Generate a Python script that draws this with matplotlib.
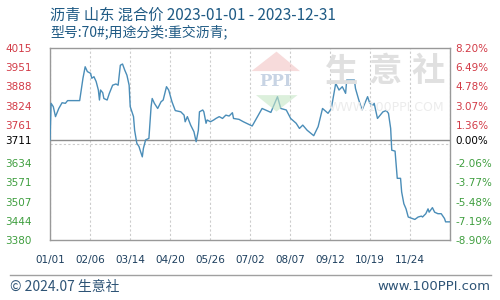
import matplotlib

matplotlib.use("Agg")
import matplotlib.pyplot as plt
import numpy as np
import pandas as pd
from matplotlib.lines import Line2D
from matplotlib.patches import Polygon

# price series (2023, yuan/ton)
dates = [
    "01-01", "01-02", "01-04", "01-06", "01-09", "01-12", "01-15", "01-17", "01-28", "01-29",
    "01-31", "02-02", "02-04", "02-07", "02-08", "02-10", "02-12", "02-14", "02-15", "02-16",
    "02-18", "02-19", "02-22", "02-24", "02-27", "03-02", "03-04", "03-06", "03-08", "03-10",
    "03-12", "03-14", "03-15", "03-18", "03-19", "03-21", "03-23", "03-24", "03-26", "03-27",
    "03-29", "04-01", "04-03", "04-04", "04-06", "04-09", "04-12", "04-14", "04-17", "04-19",
    "04-22", "04-25", "04-30", "05-03", "05-04", "05-06", "05-09", "05-12", "05-14", "05-16",
    "05-17", "05-20", "05-21", "05-23", "05-24", "05-27", "05-30", "06-01", "06-04", "06-07",
    "06-10", "06-13", "06-16", "06-17", "06-22", "06-26", "07-04", "07-13", "07-21", "07-27",
    "07-30", "08-04", "08-08", "08-13", "08-16", "08-19", "08-23", "08-29", "09-02", "09-06",
    "09-11", "09-14", "09-18", "09-21", "09-24", "09-27", "09-28", "10-05", "10-06", "10-09",
    "10-12", "10-17", "10-19", "10-22", "10-23", "10-26", "10-29", "10-31", "11-03", "11-05",
    "11-07", "11-08", "11-11", "11-13", "11-16", "11-17", "11-19", "11-21", "11-23", "11-26",
    "11-29", "12-02", "12-05", "12-06", "12-09", "12-11", "12-12", "12-15", "12-17", "12-20",
    "12-23", "12-26", "12-27", "12-31",
]
prices = [
    3711, 3832, 3821, 3788, 3815, 3834, 3832, 3841, 3841, 3865,
    3915, 3953, 3937, 3931, 3915, 3920, 3904, 3876, 3843, 3876,
    3867, 3848, 3843, 3865, 3892, 3896, 3892, 3958, 3962, 3942,
    3925, 3892, 3821, 3788, 3743, 3700, 3689, 3677, 3655, 3683,
    3711, 3716, 3821, 3848, 3832, 3815, 3837, 3843, 3887, 3876,
    3837, 3808, 3804, 3793, 3771, 3788, 3760, 3738, 3705, 3743,
    3804, 3810, 3804, 3766, 3777, 3771, 3777, 3782, 3788, 3782,
    3793, 3790, 3801, 3782, 3779, 3771, 3757, 3815, 3802, 3854,
    3815, 3810, 3782, 3766, 3749, 3760, 3743, 3725, 3755, 3815,
    3799, 3815, 3898, 3876, 3887, 3865, 3909, 3909, 3881, 3843,
    3810, 3854, 3832, 3826, 3832, 3782, 3795, 3804, 3808, 3799,
    3749, 3677, 3674, 3584, 3584, 3539, 3500, 3483, 3456, 3452,
    3448, 3456, 3459, 3456, 3467, 3483, 3472, 3487, 3472, 3467,
    3467, 3451, 3440, 3440,
]

base_price = 3711
x_labels = ["01/01", "02/06", "03/14", "04/20", "05/26", "07/02", "08/07", "09/12", "10/19", "11/24"]
left_labels = ["3380", "3444", "3507", "3571", "3634", "3711", "3761", "3824", "3888", "3951", "4015"]
right_labels = ["-8.90%", "-7.19%", "-5.48%", "-3.77%", "-2.06%", "0.00%",
                "1.36%", "3.07%", "4.78%", "6.49%", "8.20%"]

RED = "#d23a46"
GREEN = "#3f9e3f"
LINE = "#4a8db8"
TEXT = "#1f5a84"
CJK = ["Noto Sans CJK SC", "DejaVu Sans"]

days = (pd.to_datetime(["2023-" + d for d in dates]) - pd.Timestamp("2023-01-01")).days.to_numpy()

y_lo, y_hi = 3380, 4015
grid_y = np.linspace(y_lo, y_hi, 11)
label_y = grid_y.copy()
label_y[5] = base_price
grid_x = np.linspace(0, 364, 11)

fig = plt.figure(figsize=(5, 3), dpi=100)
fig.patch.set_facecolor("white")
ax = fig.add_axes([0.1, 0.2, 0.8, 0.64])

# watermark: logo + site name
roof = Polygon([[0.503, 0.763], [0.553, 0.828], [0.600, 0.763]], closed=True,
               transform=fig.transFigure, facecolor="#f2c4c4", edgecolor="none", alpha=0.6, zorder=0)
foot = Polygon([[0.512, 0.683], [0.553, 0.628], [0.595, 0.683]], closed=True,
               transform=fig.transFigure, facecolor="#c6e6c6", edgecolor="none", alpha=0.6, zorder=0)
fig.patches.extend([roof, foot])
fig.text(0.552, 0.727, "PPI", ha="center", va="center", fontsize=12, fontweight="bold",
         color="#c8d4e4", family="DejaVu Serif", zorder=0)
for cx, ch in zip([0.683, 0.770, 0.856], "生意社"):
    fig.text(cx, 0.76, ch, ha="center", va="center", fontsize=24, color="#e0e0e0",
             family=CJK, fontweight="bold", zorder=0)
fig.text(0.773, 0.643, "WWW.100PPI.COM", ha="center", va="center", fontsize=9,
         color="#ececec", zorder=0)

ax.set_facecolor("none")
ax.plot(days, prices, color=LINE, linewidth=1.0, zorder=3)
ax.axhline(base_price, color="#8c8c8c", linewidth=1.0, zorder=2)

ax.set_xlim(0, 364)
ax.set_ylim(y_lo, y_hi)

ax.set_xticks(grid_x)
ax.set_xticklabels(x_labels + [""], fontsize=7.5, color="#1d3f5e")
ax.set_yticks(label_y)
ax.set_yticklabels(left_labels, fontsize=7.5)
ax.set_yticks(grid_y, minor=True)
ax.tick_params(axis="both", which="both", length=0)
ax.tick_params(axis="x", pad=11)
ax.grid(True, which="minor", axis="y", linestyle=(0, (2, 2)), color="#cccccc", linewidth=0.8)
ax.grid(True, which="major", axis="x", linestyle=(0, (2, 2)), color="#cccccc", linewidth=0.8)
for side in ax.spines.values():
    side.set_color("#999999")
    side.set_linewidth(1.0)

ax2 = ax.twinx()
ax2.set_ylim(y_lo, y_hi)
ax2.set_yticks(label_y)
ax2.set_yticklabels(right_labels, fontsize=7.5)
ax2.tick_params(axis="y", length=0, pad=4)
for side in ax2.spines.values():
    side.set_visible(False)

for lab_l, lab_r, val in zip(ax.get_yticklabels(), ax2.get_yticklabels(), label_y):
    if val > base_price:
        c = RED
    elif val < base_price:
        c = GREEN
    else:
        c = "black"
    lab_l.set_color(c)
    lab_r.set_color(c)
for lab in ax.get_yticklabels():
    lab.set_horizontalalignment("left")
# labels start ~45 px left of the axis
ax.tick_params(axis="y", pad=32)

fig.text(0.1, 0.95, "沥青 山东 混合价 2023-01-01 - 2023-12-31", fontsize=11, color=TEXT,
         family=CJK, va="center", ha="left")
fig.text(0.1, 0.893, "型号:70#;用途分类:重交沥青;", fontsize=10, color=TEXT,
         family=CJK, va="center", ha="left")

fig.add_artist(Line2D([0.02, 0.982], [0.083, 0.083], transform=fig.transFigure,
                      color="#a0a0a0", linewidth=1.0))
fig.text(0.02, 0.045, "© 2024.07 生意社", fontsize=10, color="#2e5476", family=CJK,
         va="center", ha="left")
fig.text(0.98, 0.045, "www.100PPI.com", fontsize=9.5, color="#2e5476",
         va="center", ha="right")

fig.savefig("out.png", dpi=100)
plt.close(fig)
